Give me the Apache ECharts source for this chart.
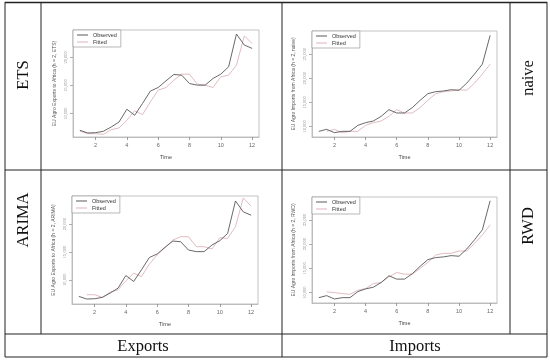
<!DOCTYPE html>
<html><head><meta charset="utf-8">
<script src="https://cdn.jsdelivr.net/npm/echarts@6/dist/echarts.min.js"></script>
<style>html,body{margin:0;padding:0;background:#fff}#c{width:550px;height:363px}</style>
</head><body><div id="c"></div><script>
const time = [1, 1.5, 2, 2.5, 3, 3.5, 4, 4.5, 5, 5.5, 6, 6.5, 7, 7.5, 8, 8.5, 9, 9.5, 10, 10.5, 11, 11.5, 12];
const exportsObserved = [7025, 6550, 6600, 6850, 7620, 8500, 10770, 9700, 11800, 14000, 14640, 15830, 16960, 16840, 15350, 15060, 15060, 16250, 17020, 18330, 24160, 22200, 21600];
const etsFitted = [6900, 6430, 6430, 6310, 7140, 7440, 8810, 10480, 9820, 12080, 14170, 14640, 15950, 17020, 17020, 15240, 15060, 14640, 16550, 16840, 18630, 23800, 22500];
const arimaFitted = [null, 7320, 7320, 6850, 7800, 8210, 9820, 11190, 10600, 12800, 14460, 15770, 17140, 17740, 17740, 15950, 15950, 15530, 17560, 17440, 19520, 24700, 23210];
const importsObserved = [8960, 9375, 8680, 8960, 8960, 10200, 10760, 11110, 12080, 13470, 12780, 12780, 13890, 15410, 16800, 17220, 17360, 17630, 17500, 19000, 20900, 22950, 28950];
const naiveFitted = [null, 8960, 9375, 8680, 8960, 8960, 10200, 10760, 11110, 12080, 13470, 12780, 12780, 13890, 15410, 16800, 17220, 17360, 17630, 17500, 19000, 20900, 22950];
const rwdFitted = [null, 10140, 10000, 9790, 9650, 10480, 10830, 11870, 12080, 13250, 14150, 13800, 13800, 14980, 16230, 17750, 18100, 18100, 18580, 18580, 20170, 21900, 23980];
const exportTicks = [10000, 15000, 20000];
const importTicks = [10000, 15000, 20000, 25000];
const timeTicks = [2, 4, 6, 8, 10, 12];
const seriesNames = ['Observed', 'Fitted'];
const rowLabels = ['ETS', 'ARIMA', 'naive', 'RWD'];
const colLabels = ['Exports', 'Imports'];
const yNames = ['EU Agro Exports to Africa (h = 2, ETS)', 'EU Agro Imports from Africa (h = 2, naive)', 'EU Agro Exports to Africa (h = 2, ARIMA)', 'EU Agro Imports from Africa (h = 2, RWD)'];

const panels = [
  {left: 73, top: 30, width: 186, height: 107, ymin: 5835, ymax: 24875, obs: exportsObserved, fit: etsFitted, ticks: exportTicks},
  {left: 312, top: 31, width: 185, height: 106, ymin: 7780, ymax: 29850, obs: importsObserved, fit: naiveFitted, ticks: importTicks},
  {left: 72, top: 196, width: 186, height: 108, ymin: 5656, ymax: 25050, obs: exportsObserved, fit: arimaFitted, ticks: exportTicks},
  {left: 312, top: 197, width: 185, height: 106, ymin: 7855, ymax: 29720, obs: importsObserved, fit: rwdFitted, ticks: importTicks}
];
const obsColor = '#585858', fitColor = '#dcb4ba';
const pairs = arr => time.map((t, i) => [t, arr[i]]);

const grid = [], xAxis = [], yAxis = [], series = [], legend = [];
panels.forEach((p, i) => {
  grid.push({left: p.left, top: p.top, width: p.width, height: p.height, show: true, borderColor: '#b4b4b4', borderWidth: 0.8, backgroundColor: 'transparent'});
  xAxis.push({gridIndex: i, type: 'value', min: 0.56, max: 12.44,
    name: 'Time', nameLocation: 'middle', nameGap: 17, nameTextStyle: {fontSize: 5.5, color: '#444', fontFamily: 'Liberation Sans'},
    axisLine: {show: true, lineStyle: {color: '#b4b4b4', width: 0.8}},
    axisTick: {show: true, length: 3, customValues: timeTicks, lineStyle: {color: '#888', width: 0.8}},
    axisLabel: {customValues: timeTicks, fontSize: 5.5, color: '#666', margin: 5, fontFamily: 'Liberation Sans'},
    splitLine: {show: false}});
  yAxis.push({gridIndex: i, type: 'value', min: p.ymin, max: p.ymax,
    name: yNames[i], nameLocation: 'middle', nameGap: 16, nameRotate: 90, nameTextStyle: {fontSize: 5, color: '#555', fontFamily: 'Liberation Sans'},
    axisLine: {show: true, lineStyle: {color: '#b4b4b4', width: 0.8}},
    axisTick: {show: true, length: 3, customValues: p.ticks, lineStyle: {color: '#999', width: 0.8}},
    axisLabel: {customValues: p.ticks, rotate: 90, fontSize: 4.5, color: '#888', margin: 5, fontFamily: 'Liberation Serif',
      formatter: v => v.toLocaleString('en-US')},
    splitLine: {show: false}});
  series.push({name: seriesNames[0], type: 'line', xAxisIndex: i, yAxisIndex: i, data: pairs(p.obs), symbol: 'none',
    lineStyle: {color: obsColor, width: 0.9}, itemStyle: {color: obsColor}, z: 3});
  series.push({name: seriesNames[1], type: 'line', xAxisIndex: i, yAxisIndex: i, data: pairs(p.fit), symbol: 'none',
    lineStyle: {color: fitColor, width: 0.9}, itemStyle: {color: fitColor}, z: 2});
  legend.push({data: seriesNames, left: p.left, top: p.top, orient: 'vertical', borderColor: '#999', borderWidth: 0.7,
    padding: [2, 4, 2, 4], icon: 'rect', itemWidth: 11, itemHeight: 1, itemGap: 1, backgroundColor: '#fff',
    textStyle: {fontSize: 5.5, color: '#333', fontFamily: 'Liberation Sans'}});
});

const lc = '#222';
const L = (x1, y1, x2, y2, w) => ({type: 'line', shape: {x1, y1, x2, y2}, style: {stroke: lc, lineWidth: w || 1}, silent: true});
const T = (text, x, y, rot) => ({type: 'text', x, y, rotation: rot || 0, silent: true,
  style: {text, fontSize: 16.5, fontFamily: 'Liberation Serif', fill: '#111', align: 'center', verticalAlign: 'middle'}});
const graphic = [
  L(5, 2.5, 547, 2.5, 1.5), L(5, 357, 547, 357), L(5, 2, 5, 357), L(547, 2, 547, 357),
  L(5, 170, 547, 170), L(5, 334, 547, 334),
  L(41, 2, 41, 334), L(282, 2, 282, 357), L(510, 2, 510, 334),
  T(rowLabels[0], 24, 75, Math.PI / 2), T(rowLabels[1], 24, 220, Math.PI / 2),
  T(rowLabels[2], 529, 78, Math.PI / 2), T(rowLabels[3], 529, 226, Math.PI / 2),
  T(colLabels[0], 143, 347), T(colLabels[1], 415, 347)
];

const chart = echarts.init(document.getElementById('c'), null, {renderer: 'canvas'});
chart.setOption({animation: false, backgroundColor: '#fff', grid, xAxis, yAxis, series, legend, graphic});
</script></body></html>
